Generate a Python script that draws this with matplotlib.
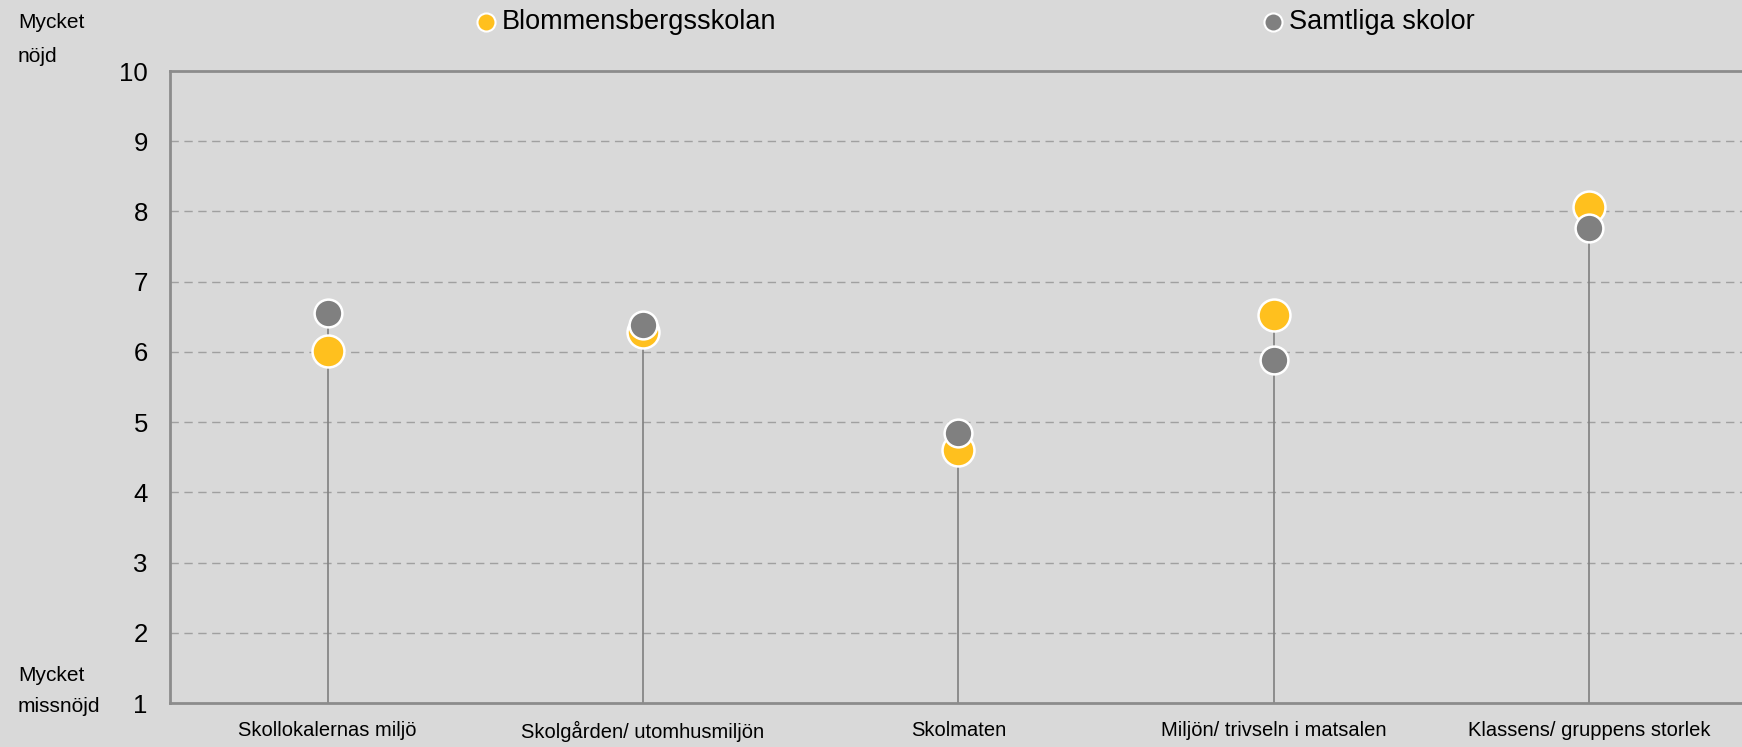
import matplotlib
matplotlib.use('Agg')
import matplotlib.pyplot as plt
from matplotlib.lines import Line2D
import numpy as np

plt.rcParams['font.family'] = ['Liberation Sans', 'DejaVu Sans']

# Data
categories = ['Skollokalernas miljö', 'Skolgården/ utomhusmiljön', 'Skolmaten',
              'Miljön/ trivseln i matsalen', 'Klassens/ gruppens storlek']
skolan = [6.01, 6.29, 4.60, 6.52, 8.07]
samtliga = [6.55, 6.39, 4.85, 5.88, 7.77]
yticks = list(range(1, 11))

bg = '#D9D9D9'
yellow = '#FFC01E'
grey = '#808080'

fig = plt.figure(figsize=(17.42, 7.47), dpi=100)
fig.patch.set_facecolor(bg)
ax = fig.add_axes([0.0976, 0.0589, 0.905, 0.846])
ax.set_facecolor(bg)

x = np.arange(len(categories)) + 0.5

# Grid lines
for t in yticks[1:-1]:
    ax.axhline(t, color='#A0A0A0', lw=1.0, ls=(0, (6, 4)), zorder=1)

# Stems up to the higher of the two values
tops = np.maximum(skolan, samtliga)
ax.vlines(x, 1, tops, color=grey, lw=1.2, zorder=2)

ax.plot(x, skolan, 'o', ms=23, mfc=yellow, mec='white', mew=1.8, ls='none', zorder=3)
ax.plot(x, samtliga, 'o', ms=20, mfc=grey, mec='white', mew=1.8, ls='none', zorder=4)

ax.set_xlim(0, len(categories))
ax.set_ylim(1, 10)
ax.set_yticks(yticks)
ax.set_yticklabels([str(t) for t in yticks], fontsize=18.5)
ax.set_xticks(x)
ax.set_xticklabels(categories, fontsize=14.5)
ax.tick_params(axis='y', length=0, pad=16)
ax.tick_params(axis='x', length=0, pad=13)

for side in ['left', 'bottom', 'top']:
    ax.spines[side].set_color('#8C8C8C')
    ax.spines[side].set_linewidth(2)
ax.spines['right'].set_visible(False)

# Axis end labels
fig.text(18 / 1742, 1 - 28 / 747, 'Mycket', fontsize=15, va='baseline', ha='left')
fig.text(18 / 1742, 1 - 62 / 747, 'nöjd', fontsize=15, va='baseline', ha='left')
fig.text(18 / 1742, 1 - 681 / 747, 'Mycket', fontsize=15, va='baseline', ha='left')
fig.text(18 / 1742, 1 - 712 / 747, 'missnöjd', fontsize=15, va='baseline', ha='left')

# Legend
for mx, tx, col, label in [(486, 502, yellow, 'Blommensbergsskolan'),
                           (1273, 1289, grey, 'Samtliga skolor')]:
    fig.add_artist(Line2D([mx / 1742], [1 - 22 / 747], marker='o', ms=13,
                          mfc=col, mec='white', mew=1.5, ls='none',
                          transform=fig.transFigure))
    fig.text(tx / 1742, 1 - 22 / 747, label, fontsize=19.5, va='center', ha='left')

fig.savefig('out.png', dpi=100, facecolor=bg)
